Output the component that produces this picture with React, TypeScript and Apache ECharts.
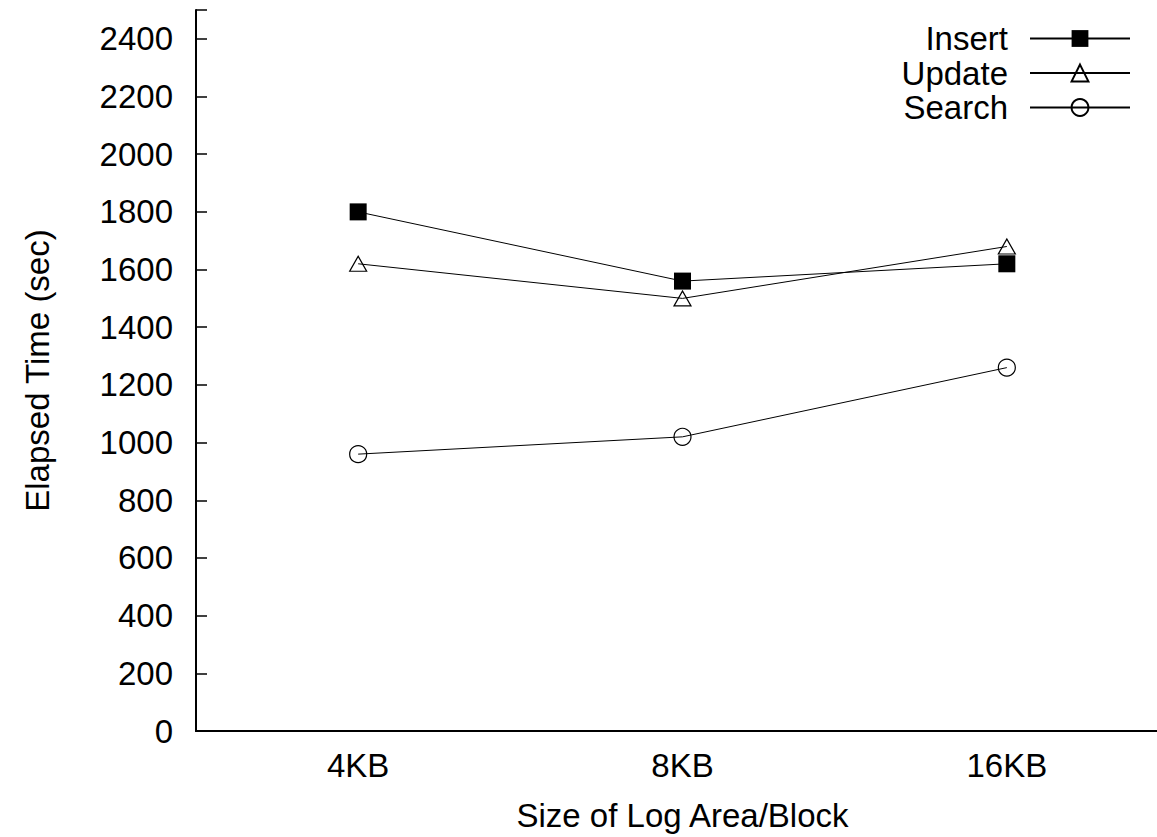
import React, { useEffect, useRef } from "react";
import * as echarts from "echarts";

const categories = ["4KB", "8KB", "16KB"];
const insertValues = [1800, 1560, 1620];
const updateValues = [1620, 1500, 1680];
const searchValues = [960, 1020, 1260];

const FONT = "'Liberation Sans', Arial, Helvetica, sans-serif";
const FS = 33;

export default function App() {
  const ref = useRef<HTMLDivElement>(null);
  useEffect(() => {
    if (!ref.current) return;
    const chart = echarts.init(ref.current, null, { renderer: "svg" });
    const lineStyle = { color: "#000", width: 1 };
    const hollow = { color: "rgba(0,0,0,0)", borderColor: "#000", borderWidth: 1.2 };
    chart.setOption({
      animation: false,
      backgroundColor: "#fff",
      textStyle: { fontFamily: FONT, color: "#000" },
      grid: { left: 196, top: 10, width: 973, height: 721, containLabel: false, outerBoundsMode: "none" },
      legend: {
        orient: "vertical",
        align: "right",
        right: 21,
        top: 17,
        itemWidth: 100,
        itemHeight: 21,
        itemGap: 1.5,
        textStyle: { fontFamily: FONT, fontSize: FS, color: "#000", padding: [0, 17, 0, 0] },
        data: ["Insert", "Update", "Search"],
      },
      xAxis: [
        {
          type: "category",
          data: categories,
          boundaryGap: true,
          position: "bottom",
          axisLine: { lineStyle: { color: "#000", width: 2 } },
          axisTick: { inside: true, length: 10, alignWithLabel: true, lineStyle: { color: "#000", width: 1.5 } },
          axisLabel: { fontFamily: FONT, fontSize: FS, color: "#000", margin: 18 },
          name: "Size of Log Area/Block",
          nameLocation: "middle",
          nameGap: 68,
          nameTextStyle: { fontFamily: FONT, fontSize: FS, color: "#000" },
          splitLine: { show: false },
        },
        {
          type: "category",
          data: categories,
          boundaryGap: true,
          position: "top",
          axisLine: { lineStyle: { color: "#000", width: 2 } },
          axisTick: { inside: true, length: 10, alignWithLabel: true, lineStyle: { color: "#000", width: 1.5 } },
          axisLabel: { show: false },
          splitLine: { show: false },
        },
      ],
      yAxis: [
        {
          type: "value",
          min: 0,
          max: 2500,
          interval: 200,
          position: "left",
          axisLine: { show: true, lineStyle: { color: "#000", width: 2 } },
          axisTick: { show: true, inside: true, length: 11, lineStyle: { color: "#000", width: 1.5 } },
          axisLabel: {
            fontFamily: FONT,
            fontSize: FS,
            color: "#000",
            margin: 23,
            formatter: (v: number) => (v === 2500 ? "" : String(v)),
          },
          splitLine: { show: false },
          name: "Elapsed Time (sec)",
          nameLocation: "middle",
          nameGap: 142,
          nameTextStyle: { fontFamily: FONT, fontSize: FS, color: "#000" },
        },
        {
          type: "value",
          min: 0,
          max: 2500,
          interval: 200,
          position: "right",
          axisLine: { show: true, lineStyle: { color: "#000", width: 2 } },
          axisTick: { show: true, inside: true, length: 11, lineStyle: { color: "#000", width: 1.5 } },
          axisLabel: { show: false },
          splitLine: { show: false },
        },
      ],
      series: [
        {
          name: "Insert",
          type: "line",
          data: insertValues,
          symbol: "rect",
          symbolSize: 17,
          lineStyle,
          itemStyle: { color: "#000" },
          z: 3,
        },
        {
          name: "Update",
          type: "line",
          data: updateValues,
          symbol: "triangle",
          symbolSize: [17, 15],
          lineStyle,
          itemStyle: hollow,
        },
        {
          name: "Search",
          type: "line",
          data: searchValues,
          symbol: "circle",
          symbolSize: 17,
          lineStyle,
          itemStyle: hollow,
        },
      ],
    });
    return () => chart.dispose();
  }, []);
  return (
    <div
      ref={ref}
      style={{ position: "fixed", left: 0, top: 0, width: 1157, height: 837, background: "#fff" }}
    />
  );
}
